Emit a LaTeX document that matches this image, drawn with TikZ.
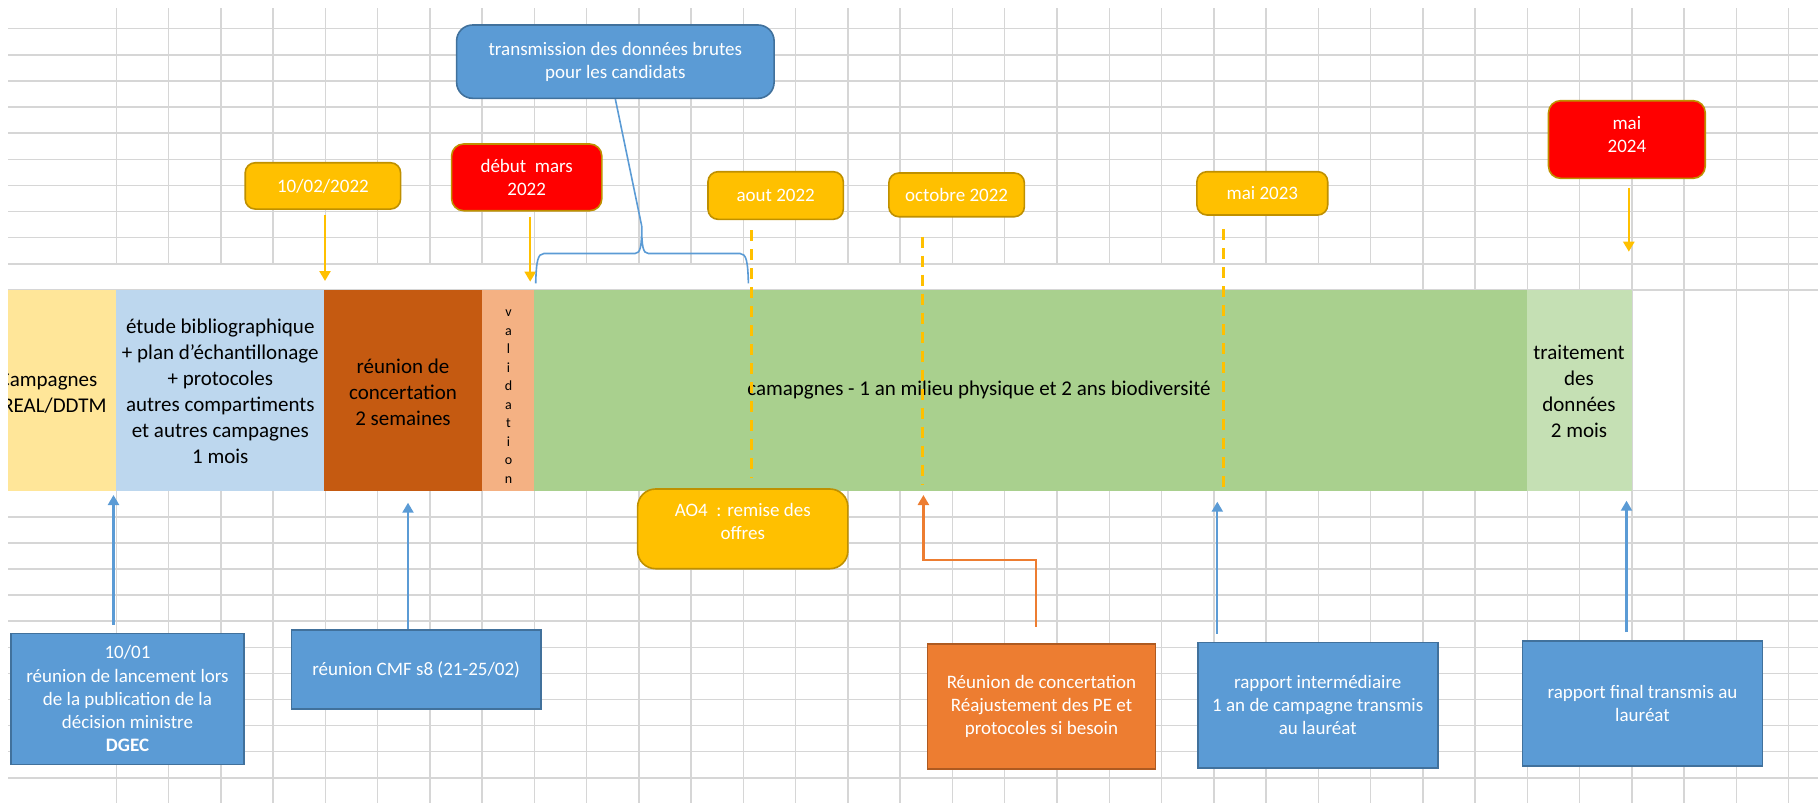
\documentclass[tikz,border=0pt]{standalone}
\usepackage{fontspec}
\setmainfont{Carlito}
\usetikzlibrary{arrows.meta}
\definecolor{gridgray}{HTML}{D6D6D6}
\definecolor{cellyellow}{HTML}{FFE699}
\definecolor{cellblue}{HTML}{BDD7EE}
\definecolor{cellbrown}{HTML}{C55A11}
\definecolor{cellpeach}{HTML}{F4B183}
\definecolor{cellgreen}{HTML}{A9D08E}
\definecolor{celllight}{HTML}{C5E0B4}
\definecolor{gold}{HTML}{FFC000}
\definecolor{goldedge}{HTML}{BF9000}
\definecolor{bluebox}{HTML}{5B9BD5}
\definecolor{blueedge}{HTML}{41719C}
\definecolor{orangebox}{HTML}{ED7D31}
\definecolor{orangeedge}{HTML}{AE5A21}
\newcommand{\cellfont}{\fontsize{10.5}{13}\selectfont}
\newcommand{\boxfont}{\fontsize{9.5}{11.65}\selectfont}
\begin{document}
\begin{tikzpicture}[x=0.5pt,y=-0.5pt,>={Triangle[length=5pt,width=5.5pt]},
  gridline/.style={draw=gridgray,line width=0.75pt},
  cell/.style={font=\cellfont,align=center},
  datebox/.style={draw=goldedge,line width=0.8pt,rounded corners=5pt,text=white,font=\boxfont,align=center},
  boxtext/.style={text=white,font=\boxfont,align=center},
  notebox/.style={draw=blueedge,fill=bluebox,line width=0.8pt,text=white,font=\boxfont,align=center},
  yarrow/.style={->,draw=gold,line width=1.2pt},
  ydash/.style={draw=gold,line width=1.5pt,dash pattern=on 5.5pt off 4pt},
  barrow/.style={->,draw=bluebox,line width=1.1pt},
  bline/.style={draw=bluebox,line width=0.8pt}]
\useasboundingbox (0,0) rectangle (1818,803);
% grille
\foreach \i in {0,...,32}
  \draw[gridline] ({116.3+52.26*\i},8) -- ({116.3+52.26*\i},803);
\foreach \j in {0,...,10}
  \draw[gridline] (8,{28.7+26.12*\j}) -- (1818,{28.7+26.12*\j});
\foreach \j in {0,...,11}
  \draw[gridline] (8,{490.7+26.1*\j}) -- (1818,{490.7+26.1*\j});
\fill[white] (8,264.6) rectangle (1421.8,289.1);
% barre des phases
\fill[cellyellow] (8,289.5) rectangle (116.3,490.7);
\fill[cellblue] (116.3,289.5) rectangle (324,490.7);
\fill[cellbrown] (324,289.5) rectangle (481.5,490.7);
\fill[cellpeach] (481.5,289.5) rectangle (533.7,490.7);
\fill[cellgreen] (533.7,289.5) rectangle (1526.8,490.7);
\fill[celllight] (1526.8,289.5) rectangle (1632.4,490.7);
\begin{scope}
\clip (8,289.5) rectangle (116.3,490.7);
\node[cell] (campT) at (48,393.3) {Campagnes\\DREAL/DDTM};
\end{scope}
\node[cell] (etudeT) at (220.3,391) {étude bibliographique\\+ plan d'échantillonage\\+ protocoles\\autres compartiments\\et autres campagnes\\1 mois};
\node[cell] (reunT) at (403,392) {réunion de\\concertation\\2 semaines};
\node[font=\fontsize{7}{9.25}\selectfont,align=center] (validT) at (508.5,396.5) {v\\a\\l\\i\\d\\a\\t\\i\\o\\n};
\node[cell] (campagT) at (979,390) {camapgnes - 1 an milieu physique et 2 ans biodiversité};
\node[cell] (traitT) at (1579,391) {traitement\\des\\données\\2 mois};
% jalons du haut
\node[datebox,fill=gold,minimum width=77.7pt,minimum height=23.15pt] (d1) at (322.9,185.9) {10/02/2022};
\node[datebox,fill=red,minimum width=75.1pt,minimum height=33.35pt,rounded corners=6pt] (d2) at (526.7,177.35) {début\ \ mars\\2022};
\node[datebox,draw=blueedge,fill=bluebox,minimum width=158.75pt,minimum height=36.65pt,rounded corners=8pt] (trans) at (615.35,61.65) {transmission des données brutes\\pour les candidats};
\node[datebox,fill=gold,minimum width=67.65pt,minimum height=23.8pt] (aout) at (775.65,195.5) {aout 2022};
\node[datebox,fill=gold,minimum width=67.8pt,minimum height=21.85pt] (oct) at (956.6,194.85) {octobre 2022};
\node[datebox,fill=gold,minimum width=65.4pt,minimum height=21.65pt] (mai23) at (1262.3,193.35) {mai 2023};
\node[datebox,fill=red,minimum width=78.35pt,minimum height=38.8pt,rounded corners=6pt] (mai24) at (1626.85,139.5) {};
\node[boxtext] (mai24T) at ([yshift=2.5pt]mai24.center) {mai\\2024};
\node[datebox,fill=gold,minimum width=105.15pt,minimum height=39.85pt,rounded corners=9pt] (ao4) at (742.75,528.85) {};
\node[boxtext] (ao4T) at ([yshift=3.7pt]ao4.center) {AO4\ \ : remise des\\offres};
\coordinate (t1) at (325,281);
\draw[yarrow,shorten <=2.5pt] (d1.south -| t1) -- (t1);
\coordinate (t2) at (530.2,281.7);
\draw[yarrow,shorten <=2.6pt] (d2.south -| t2) -- (t2);
\coordinate (t3) at (1628.8,251.7);
\draw[yarrow,shorten <=4.2pt] (mai24.south -| t3) -- (t3);
\coordinate (e1) at (751,478.3);
\draw[ydash,shorten <=5pt] (aout.south -| e1) -- (e1);
\coordinate (e2) at (922.8,484);
\draw[ydash,shorten <=9.6pt] (oct.south -| e2) -- (e2);
\coordinate (e3) at (1223,488.3);
\draw[ydash,shorten <=6.6pt] (mai23.south -| e3) -- (e3);
% accolade
\coordinate (brL) at (535.7,283.3);
\coordinate (brT) at (641.7,226);
\coordinate (brR) at (748.4,283.3);
\draw[bline] (trans.south) -- (brT);
\draw[bline] (brL) .. controls (536.3,262) and (537.5,253.5) .. (544,253.5) -- (635,253.5)
  .. controls (640.5,253.5) and (641.7,246) .. (brT)
  .. controls (641.7,246) and (642.9,253.5) .. (648.4,253.5) -- (740,253.5)
  .. controls (746.5,253.5) and (747.8,262) .. (brR);
% notes du bas
\node[notebox,minimum width=116.5pt,minimum height=65.5pt] (lanc) at (127.5,698.8) {10/01\\réunion de lancement lors\\de la publication de la\\décision ministre\\\textbf{DGEC}};
\node[notebox,minimum width=124.75pt,minimum height=39.5pt] (cmf) at (416.15,669.5) {réunion CMF s8 (21-25/02)};
\node[notebox,draw=orangeedge,fill=orangebox,minimum width=114.05pt,minimum height=62.35pt] (ajust) at (1041.45,706.35) {Réunion de concertation\\Réajustement des PE et\\protocoles si besoin};
\node[notebox,minimum width=120pt,minimum height=62.85pt] (inter) at (1317.7,705.15) {rapport intermédiaire\\1 an de campagne transmis\\au lauréat};
\node[notebox,minimum width=120.05pt,minimum height=62.35pt] (final) at (1642.45,703.35) {rapport final transmis au\\lauréat};
\coordinate (u1) at (113.5,495);
\draw[barrow,shorten <=4pt] (lanc.north -| u1) -- (u1);
\coordinate (u2) at (408,502.7);
\draw[barrow] (cmf.north -| u2) -- (u2);
\coordinate (u3) at (1217.3,501.7);
\draw[barrow,shorten <=4pt] (inter.north -| u3) -- (u3);
\coordinate (u4) at (1626.5,500.7);
\draw[barrow,shorten <=4pt] (final.north -| u4) -- (u4);
\coordinate (u5) at (923.4,495);
\draw[->,draw=orangebox,line width=1.2pt] ([xshift=-2.7pt,yshift=8.15pt]ajust.north) -- ++(0,-66.7) -| (u5);
\end{tikzpicture}
\end{document}
